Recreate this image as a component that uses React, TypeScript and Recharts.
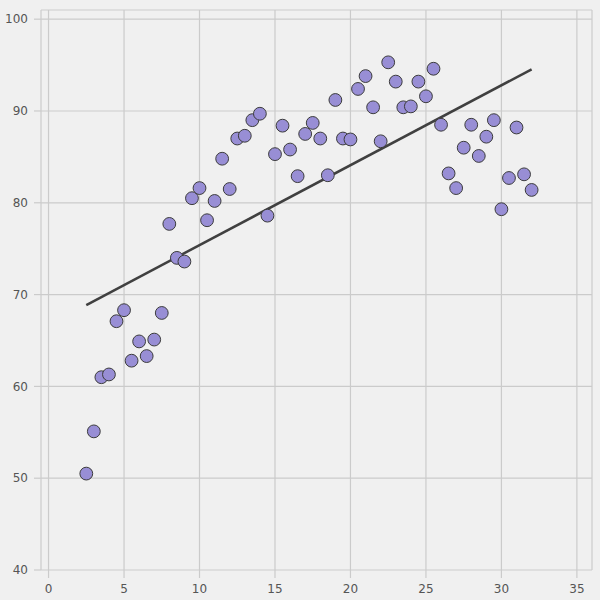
import React from "react";
import { ScatterChart, Scatter, XAxis, YAxis, CartesianGrid } from "recharts";

const xValues = [
  2.5, 3, 3.5, 4, 4.5, 5, 5.5, 6, 6.5, 7, 7.5, 8, 8.5, 9, 9.5, 10, 10.5, 11, 11.5, 12,
  12.5, 13, 13.5, 14, 14.5, 15, 15.5, 16, 16.5, 17, 17.5, 18, 18.5, 19, 19.5, 20, 20.5, 21, 21.5, 22,
  22.5, 23, 23.5, 24, 24.5, 25, 25.5, 26, 26.5, 27, 27.5, 28, 28.5, 29, 29.5, 30, 30.5, 31, 31.5, 32,
];
const yValues = [
  50.5, 55.1, 61.0, 61.3, 67.1, 68.3, 62.8, 64.9, 63.3, 65.1, 68.0, 77.7, 74.0, 73.6, 80.5, 81.6, 78.1, 80.2, 84.8, 81.5,
  87.0, 87.3, 89.0, 89.7, 78.6, 85.3, 88.4, 85.8, 82.9, 87.5, 88.7, 87.0, 83.0, 91.2, 87.0, 86.9, 92.4, 93.8, 90.4, 86.7,
  95.3, 93.2, 90.4, 90.5, 93.2, 91.6, 94.6, 88.5, 83.2, 81.6, 86.0, 88.5, 85.1, 87.2, 89.0, 79.3, 82.7, 88.2, 83.1, 81.4,
];
const fitX = [2.5, 32];
const fitY = [68.86, 94.54];
const xTicks = [0, 5, 10, 15, 20, 25, 30, 35];
const yTicks = [40, 50, 60, 70, 80, 90, 100];

const points = xValues.map((x, i) => ({ x, y: yValues[i] }));
const fitLine = fitX.map((x, i) => ({ x, y: fitY[i] }));

const tickStyle = { fill: "#555555", fontSize: 12, fontFamily: "DejaVu Sans" };

const Dot = (props: any) => (
  <circle cx={props.cx} cy={props.cy} r={6.4} fill="#988ED5" stroke="#3c3c3c" strokeWidth={1} />
);

export default function App() {
  return (
    <div style={{ position: "fixed", top: 0, left: 0, width: 600, height: 600, background: "#f0f0f0" }}>
      <ScatterChart width={600} height={600} margin={{ top: 10, right: 8, bottom: 0, left: 1 }}>
        <CartesianGrid stroke="#cbcbcb" strokeWidth={1.2} />
        <XAxis
          type="number"
          dataKey="x"
          domain={[-0.5, 36]}
          ticks={xTicks}
          allowDataOverflow
          axisLine={false}
          tickLine={{ stroke: "#cbcbcb", strokeWidth: 1.2 }}
          tickSize={8}
          tickMargin={6}
          height={30}
          tick={tickStyle}
        />
        <YAxis
          type="number"
          dataKey="y"
          domain={[40, 101]}
          ticks={yTicks}
          allowDataOverflow
          axisLine={false}
          tickLine={{ stroke: "#cbcbcb", strokeWidth: 1.2 }}
          tickSize={7}
          tickMargin={6}
          width={40}
          tick={tickStyle}
        />
        <Scatter
          data={fitLine}
          line={{ stroke: "#404040", strokeWidth: 2.5 }}
          shape={() => <g />}
          isAnimationActive={false}
        />
        <Scatter data={points} shape={Dot} isAnimationActive={false} />
      </ScatterChart>
    </div>
  );
}
